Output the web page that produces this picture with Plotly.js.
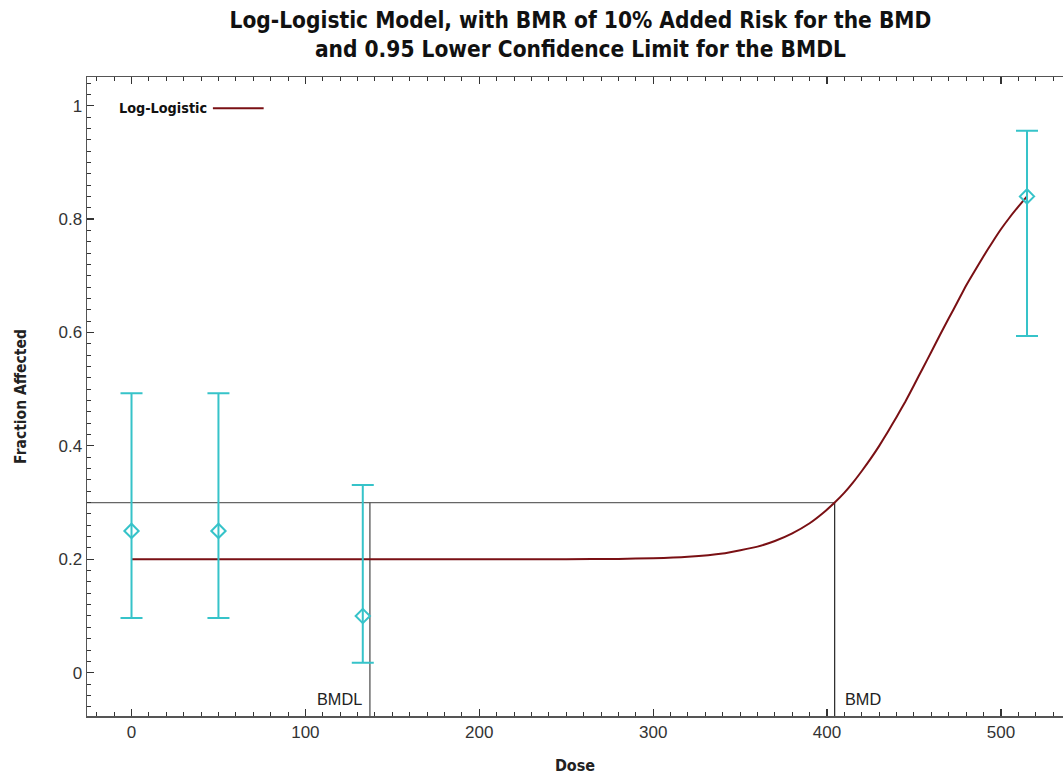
<!DOCTYPE html>
<html>
<head>
<meta charset="utf-8">
<script src="https://cdn.plot.ly/plotly-3.0.1.min.js"></script>
<style>
  html, body { margin: 0; padding: 0; background: #fff; overflow: hidden; }
  #chart { width: 1063px; height: 775px; }
</style>
</head>
<body>
<div id="chart"></div>
<script>
// Observed dose groups: fraction affected with lower/upper confidence limits
const doses = [0, 50, 133, 515];
const fraction = [0.25, 0.25, 0.10, 0.84];
const lowerCL = [0.0965, 0.0965, 0.0176, 0.594];
const upperCL = [0.493, 0.493, 0.331, 0.956];

// Fitted log-logistic curve
const curveDose = [0, 50, 100, 150, 200, 250, 280, 300, 320, 340, 360, 370, 380, 390, 397, 404.4, 410, 415, 420, 425, 430, 435, 440, 445, 450, 455, 460, 465, 470, 475, 480, 485, 490, 495, 500, 505, 510, 515];
const curveFrac = [0.200, 0.200, 0.200, 0.200, 0.200, 0.2002, 0.2007, 0.2018, 0.2045, 0.2103, 0.2223, 0.2322, 0.2457, 0.2635, 0.2798, 0.300, 0.3175, 0.3356, 0.3557, 0.377, 0.400, 0.425, 0.451, 0.478, 0.507, 0.5366, 0.566, 0.596, 0.625, 0.6537, 0.683, 0.709, 0.7345, 0.7588, 0.782, 0.8028, 0.8219, 0.840];

// Benchmark values
const bmrLevel = 0.3;
const bmd = 404.4;
const bmdl = 137.1;

const xRange = [-25.6, 535.7];
const yRange = [-0.0764, 1.0506];

const teal = '#36c3c9';
const curveColor = '#7a1014';
const tickFont = { family: 'Liberation Sans, Arial, sans-serif', size: 17, color: '#333' };
const boldNarrow = 'Liberation Sans Narrow, DejaVu Sans Condensed, Arial Narrow, sans-serif';

const traces = [
  {
    x: curveDose, y: curveFrac, type: 'scatter', mode: 'lines',
    line: { color: curveColor, width: 2, shape: 'spline', smoothing: 0.4 },
    hoverinfo: 'skip', showlegend: false
  },
  {
    x: doses, y: fraction, type: 'scatter', mode: 'markers',
    marker: { symbol: 'diamond-open', size: 11, color: teal, line: { width: 2, color: teal } },
    error_y: {
      type: 'data', symmetric: false,
      array: upperCL.map((u, i) => u - fraction[i]),
      arrayminus: lowerCL.map((l, i) => fraction[i] - l),
      color: teal, thickness: 2, width: 11
    },
    showlegend: false
  }
];

const axisCommon = {
  showgrid: false, zeroline: false,
  showline: true, linecolor: '#555', linewidth: 1.5,
  ticks: 'inside', ticklen: 7, tickwidth: 1.2, tickcolor: '#333',
  tickfont: tickFont
};

const layout = {
  width: 1063, height: 775,
  margin: { l: 87, r: 0, t: 77, b: 59 },
  paper_bgcolor: '#fff', plot_bgcolor: '#fff',
  showlegend: false,
  title: {
    text: 'Log-Logistic Model, with BMR of 10% Added Risk for the BMD<br>and 0.95 Lower Confidence Limit for the BMDL',
    font: { family: boldNarrow, size: 22.5, color: '#111', weight: 'bold' },
    x: 0.546, xanchor: 'center', yref: 'container', y: 0.964, yanchor: 'top'
  },
  xaxis: Object.assign({}, axisCommon, {
    range: xRange, dtick: 100, tick0: 0, mirror: 'ticks',
    minor: { dtick: 10, tick0: 0, ticks: 'inside', ticklen: 4, tickcolor: '#333', tickwidth: 1 },
    title: { text: 'Dose', font: { family: boldNarrow, size: 16, color: '#222', weight: 'bold' }, standoff: 22 }
  }),
  yaxis: Object.assign({}, axisCommon, {
    range: yRange, dtick: 0.2, tick0: 0, mirror: false,
    minor: { dtick: 0.02, tick0: 0, ticks: 'inside', ticklen: 4, tickcolor: '#333', tickwidth: 1 },
    title: { text: 'Fraction Affected', font: { family: boldNarrow, size: 15.5, color: '#222', weight: 'bold' }, standoff: 28 }
  }),
  shapes: [
    { type: 'line', layer: 'below', xref: 'x', yref: 'y', x0: xRange[0], x1: bmd, y0: bmrLevel, y1: bmrLevel, line: { color: '#666', width: 1.3 } },
    { type: 'line', layer: 'below', xref: 'x', yref: 'y', x0: bmdl, x1: bmdl, y0: yRange[0], y1: bmrLevel, line: { color: '#555', width: 1.3 } },
    { type: 'line', layer: 'below', xref: 'x', yref: 'y', x0: bmd, x1: bmd, y0: yRange[0], y1: bmrLevel, line: { color: '#111', width: 1.1 } },
    { type: 'line', xref: 'paper', yref: 'paper', x0: 0.129, x1: 0.181, y0: 0.951, y1: 0.951, line: { color: curveColor, width: 2 } }
  ],
  annotations: [
    { text: 'Log-Logistic', xref: 'paper', yref: 'paper', x: 0.031, y: 0.951, xanchor: 'left', yanchor: 'middle', showarrow: false,
      font: { family: boldNarrow, size: 14.3, color: '#111', weight: 'bold' } },
    { text: 'BMDL', xref: 'x', yref: 'y', x: bmdl, y: -0.047, xanchor: 'right', yanchor: 'middle', xshift: -6, showarrow: false,
      font: { family: 'Liberation Sans, Arial, sans-serif', size: 16.3, color: '#222' } },
    { text: 'BMD', xref: 'x', yref: 'y', x: bmd, y: -0.047, xanchor: 'left', yanchor: 'middle', xshift: 8, showarrow: false,
      font: { family: 'Liberation Sans, Arial, sans-serif', size: 16.3, color: '#222' } }
  ]
};

Plotly.newPlot('chart', traces, layout, { displayModeBar: false, staticPlot: true });
</script>
</body>
</html>
